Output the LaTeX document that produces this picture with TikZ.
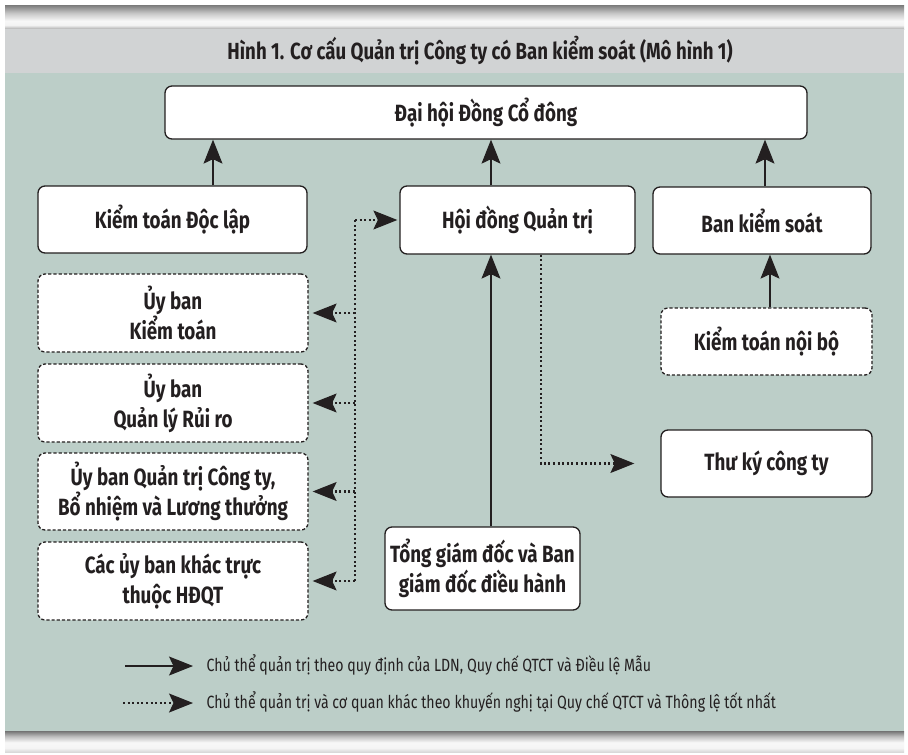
\documentclass[tikz,border=0pt]{standalone}
\usepackage{fontspec}
\setmainfont{Fira Sans}[FakeStretch=0.8]
\usetikzlibrary{arrows.meta}

\definecolor{ink}{HTML}{231F20}
\definecolor{panel}{HTML}{BCCEC8}
\definecolor{titlebar}{HTML}{D1D3D4}

% metallic bands above the title bar and below the panel
\pgfdeclareverticalshading{topband}{100bp}{%
  color(0bp)=(black!45); color(25bp)=(black!45); color(27bp)=(black!25);
  color(33bp)=(black!5); color(42bp)=(black!3); color(58bp)=(black!22);
  color(75bp)=(black!52); color(100bp)=(black!52)}
\pgfdeclareverticalshading{bottomband}{100bp}{%
  color(0bp)=(black!15); color(25bp)=(black!15); color(35bp)=(black!4);
  color(48bp)=(black!3); color(62bp)=(black!25); color(75bp)=(black!55);
  color(100bp)=(black!55)}

\newcommand{\boxfont}{\fontsize{23.5}{30}\selectfont\bfseries}
\newcommand{\headfont}{\fontsize{23.3}{27}\selectfont\bfseries}
\newcommand{\keyfont}{\fontsize{17.7}{22}\selectfont}

\begin{document}
\begin{tikzpicture}[x=1pt,y=-1pt,
  every node/.style={text=ink},
  box/.style={draw=ink, line width=1.3pt, fill=white, rounded corners=7pt,
    align=center, font=\boxfont, inner sep=0pt},
  dbox/.style={box, dash pattern=on 3.2pt off 2pt},
  tip/.style={-{Stealth[length=24pt,width=19pt,inset=4.5pt,line width=1pt]}},
  solidarr/.style={draw=ink, line width=2.3pt, tip},
  dotline/.style={draw=ink, line width=2.2pt, dash pattern=on 2pt off 2.6pt},
  dotarr/.style={dotline, tip},
]
\useasboundingbox (0,0) rectangle (908,755);
\fill[white] (0,0) rectangle (908,755);
\shade[shading=topband] (5,5) rectangle (904,29);
\fill[titlebar] (5,29) rectangle (904,73);
\fill[panel] (5,73) rectangle (904,731);
\shade[shading=bottomband] (5,731) rectangle (904,752);

\node[font=\headfont] (title) at (480,51)
  {Hình 1. Cơ cấu Quản trị Công ty có Ban kiểm soát (Mô hình 1)};

% boxes
\node[box, minimum width=642pt, minimum height=53pt] (dhdcd) at (486,112.5) {Đại hội Đồng Cổ đông};
\node[box, minimum width=269pt, minimum height=67pt] (ktdl) at (172.5,219.5) {Kiểm toán Độc lập};
\node[box, minimum width=235pt, minimum height=68pt] (hdqt) at (517.5,220) {Hội đồng Quản trị};
\node[box, minimum width=218pt, minimum height=67pt] (bks) at (762,220.5) {Ban kiểm soát};

\node[dbox, minimum width=270pt, minimum height=78pt] (ubkt) at (173,313) {Ủy ban\\Kiểm toán};
\node[dbox, minimum width=270pt, minimum height=78pt] (ubqlrr) at (173,403) {Ủy ban\\Quản lý Rủi ro};
\node[dbox, minimum width=270pt, minimum height=77pt] (ubqtct) at (173,491.5) {Ủy ban Quản trị Công ty,\\Bổ nhiệm và Lương thưởng};
\node[dbox, minimum width=270pt, minimum height=78pt] (ubkhac) at (173,581) {Các ủy ban khác trực\\thuộc HĐQT};

\node[dbox, minimum width=211pt, minimum height=67pt] (ktnb) at (766.5,341.5) {Kiểm toán nội bộ};
\node[box, minimum width=211pt, minimum height=67pt] (thuky) at (766.5,463.5) {Thư ký công ty};
\node[box, minimum width=195pt, minimum height=83pt] (tgd) at (482.5,568.5) {Tổng giám đốc và Ban\\giám đốc điều hành};

% reporting lines set by law
\draw[solidarr] ([xshift=40.5pt]ktdl.north) -- ([xshift=40.5pt]ktdl.north |- dhdcd.south);
\draw[solidarr] ([xshift=-26.5pt]hdqt.north) -- ([xshift=-26.5pt]hdqt.north |- dhdcd.south);
\draw[solidarr] ([xshift=3pt]bks.north) -- ([xshift=3pt]bks.north |- dhdcd.south);
\draw[solidarr] ([xshift=3.5pt]ktnb.north) -- ([xshift=3.5pt]ktnb.north |- bks.south);
\draw[solidarr] ([xshift=8.5pt]tgd.north) -- ([xshift=8.5pt]tgd.north |- hdqt.south);

% recommended bodies
\coordinate (bus) at (355,0);
\draw[dotline] (bus |- ubkhac.east) -- (bus |- hdqt.west);
\draw[dotarr] (bus |- hdqt.west) -- ([xshift=-2pt]hdqt.west);
\foreach \n in {ubkt,ubqlrr,ubqtct,ubkhac}
  \draw[dotarr] (bus |- \n.east) -- ([xshift=4pt]\n.east);
\draw[dotarr] ([xshift=23.5pt]hdqt.south) |- ([xshift=-26pt]thuky.west);

% key
\coordinate (k1a) at (125,666);
\coordinate (k1b) at (193,666);
\coordinate (k2a) at (123,703);
\coordinate (k2b) at (193,703);
\draw[solidarr] (k1a) -- (k1b);
\draw[dotarr] (k2a) -- (k2b);
\node[anchor=west, font=\keyfont] (k1) at (203,665)
  {Chủ thể quản trị theo quy định của LDN, Quy chế QTCT và Điều lệ Mẫu};
\node[anchor=west, font=\keyfont] (k2) at (203,702)
  {Chủ thể quản trị và cơ quan khác theo khuyến nghị tại Quy chế QTCT và Thông lệ tốt nhất};
\end{tikzpicture}
\end{document}
